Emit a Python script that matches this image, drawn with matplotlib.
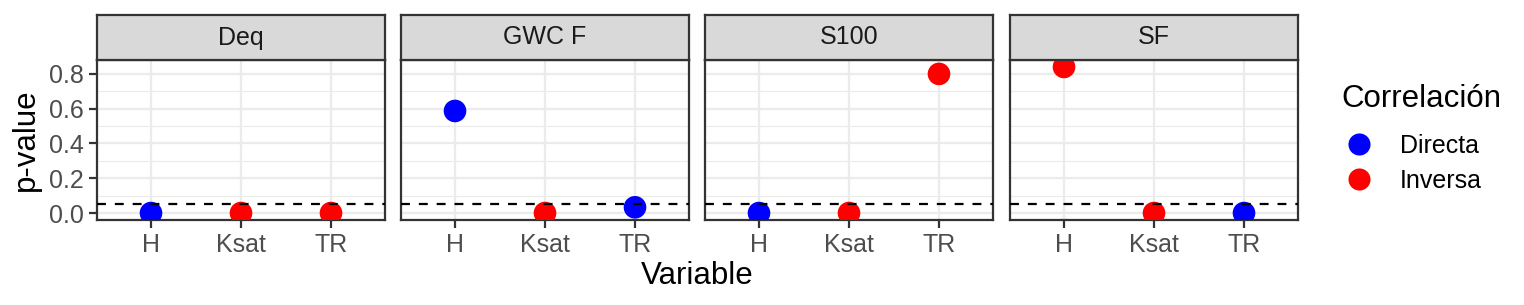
import matplotlib
matplotlib.use("Agg")
import matplotlib.pyplot as plt
from matplotlib.lines import Line2D

plt.rcParams['font.family'] = ['Liberation Sans', 'DejaVu Sans']

panels = ["Deq", "GWC F", "S100", "SF"]
variables = ["H", "Ksat", "TR"]
pvalues = {
    "Deq":   [0.0, 0.0, 0.0],
    "GWC F": [0.587, 0.0, 0.033],
    "S100":  [0.0, 0.0, 0.80],
    "SF":    [0.84, 0.0, 0.0],
}
correlacion = {
    "Deq":   ["Directa", "Inversa", "Inversa"],
    "GWC F": ["Directa", "Inversa", "Directa"],
    "S100":  ["Directa", "Inversa", "Inversa"],
    "SF":    ["Inversa", "Inversa", "Directa"],
}
levels = ["Directa", "Inversa"]
colors = {"Directa": "#0000FF", "Inversa": "#FF0000"}
threshold = 0.05
yticks = [0.0, 0.2, 0.4, 0.6, 0.8]
yminor = [0.1, 0.3, 0.5, 0.7]

W, H = 1524, 305
dpi = 150
fig = plt.figure(figsize=(W / dpi, H / dpi), dpi=dpi)

panel_x = [97, 401, 705, 1010]
panel_w = 288
p_top, p_bot = 60, 220
s_top = 15

grey20 = "#333333"
grey30 = "#4D4D4D"
grid_col = "#EBEBEB"
lw_border = 1.07
small = 12
big = 15

for i, name in enumerate(panels):
    x0 = panel_x[i]
    ax = fig.add_axes([x0 / W, (H - p_bot) / H, panel_w / W, (p_bot - p_top) / H])
    xs = list(range(len(variables)))
    ax.scatter(xs, pvalues[name], c=[colors[c] for c in correlacion[name]],
               s=118, linewidths=0, zorder=3)
    ax.axhline(threshold, color="black", lw=1.07, ls=(0, (4, 4)), zorder=4)
    ax.set_xlim(-0.6, 2.6)
    ax.set_ylim(-0.04, 0.88)
    ax.set_xticks(xs)
    ax.set_xticklabels(variables)
    ax.set_yticks(yticks)
    ax.set_yticks(yminor, minor=True)
    ax.grid(True, which="major", color=grid_col, lw=1.07, zorder=0)
    ax.grid(True, which="minor", axis="y", color=grid_col, lw=0.53, zorder=0)
    ax.set_axisbelow(True)
    ax.tick_params(axis="both", which="major", length=3.7, width=1.07, color=grey20,
                   labelcolor=grey30, labelsize=small, pad=2.5)
    ax.tick_params(axis="both", which="minor", length=0)
    if i == 0:
        ax.set_yticklabels([f"{t:.1f}" for t in yticks])
        ax.set_ylabel("p-value", fontsize=big, labelpad=4)
    else:
        ax.tick_params(axis="y", which="major", left=False, labelleft=False)
    for sp in ax.spines.values():
        sp.set_color(grey20)
        sp.set_linewidth(lw_border)
    # strip
    sax = fig.add_axes([x0 / W, (H - p_top) / H, panel_w / W, (p_top - s_top) / H])
    sax.set_facecolor("#D9D9D9")
    sax.set_xticks([])
    sax.set_yticks([])
    for sp in sax.spines.values():
        sp.set_color(grey20)
        sp.set_linewidth(lw_border)
    sax.text(0.5, 0.5, name, ha="center", va="center", fontsize=small,
             color="#1A1A1A", transform=sax.transAxes)

fig.text((panel_x[0] + panel_x[-1] + panel_w) / 2 / W, 1 - 283.5 / H, "Variable",
         ha="center", va="baseline", fontsize=big)

handles = [Line2D([], [], marker="o", ls="none", markersize=10.6,
                  markerfacecolor=colors[l], markeredgewidth=0) for l in levels]
leg = fig.legend(handles, levels, title="Correlación", loc="upper left",
                 bbox_to_anchor=(1341 / W, 1 - 84 / H), frameon=False,
                 fontsize=small, title_fontsize=big, alignment="left",
                 handletextpad=0.9, labelspacing=0.45, borderpad=0,
                 borderaxespad=0, handlelength=1.45)
leg._legend_box.sep = 9.5

fig.savefig("out.png", dpi=dpi)
